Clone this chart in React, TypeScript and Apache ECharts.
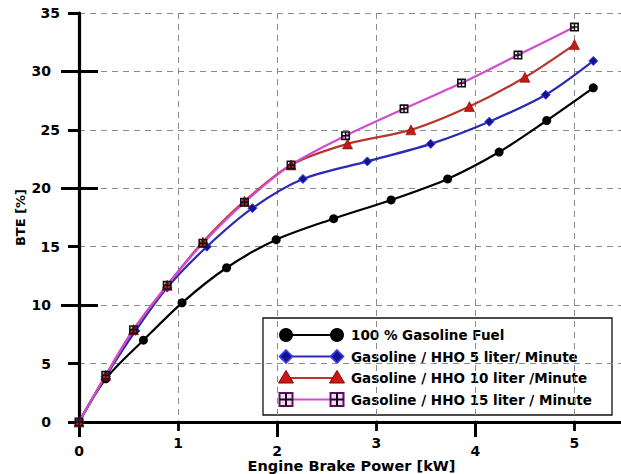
import React, { useEffect, useRef } from "react";
import * as echarts from "echarts";

// Engine brake power [kW] and brake thermal efficiency [%] for each fuel mode
const gasolinePower = [0, 0.27, 0.65, 1.04, 1.49, 1.99, 2.57, 3.15, 3.72, 4.24, 4.72, 5.19];
const gasolineBTE = [0, 3.7, 7.0, 10.2, 13.2, 15.6, 17.4, 19.0, 20.8, 23.1, 25.8, 28.6];

const hho5Power = [0, 0.27, 0.57, 0.89, 1.29, 1.75, 2.26, 2.91, 3.55, 4.14, 4.71, 5.19];
const hho5BTE = [0, 3.9, 7.8, 11.5, 15.0, 18.3, 20.8, 22.3, 23.8, 25.7, 28.0, 30.9];

const hho10Power = [0, 0.27, 0.55, 0.89, 1.25, 1.67, 2.14, 2.71, 3.35, 3.94, 4.5, 5.0];
const hho10BTE = [0, 4.0, 7.9, 11.7, 15.4, 18.9, 22.0, 23.8, 25.0, 27.0, 29.5, 32.3];

const hho15Power = [0, 0.27, 0.55, 0.89, 1.25, 1.67, 2.14, 2.69, 3.28, 3.86, 4.43, 5.0];
const hho15BTE = [0, 4.0, 7.9, 11.7, 15.3, 18.8, 22.0, 24.5, 26.8, 29.0, 31.4, 33.8];

const seriesNames = [
  "100 % Gasoline Fuel",
  "Gasoline / HHO 5 liter/ Minute",
  "Gasoline / HHO 10 liter /Minute",
  "Gasoline / HHO 15 liter / Minute",
];

const xTicks = [0, 1, 2, 3, 4, 5];
const yTicks = [0, 5, 10, 15, 20, 25, 30, 35];
const yMajorTicks = [10, 20, 30];
const xMajorTicks = [0, 2, 4];

const FONT = '"DejaVu Sans", "Liberation Sans", Arial, sans-serif';
const BLACK = "#000000";
const BLUE = "#2a2ab4";
const RED = "#b8362c";
const MAGENTA = "#d24ccf";

// square marker with a cross-hatch (four cut-out cells)
const gridSquare =
  "path://M0,0H10V10H0Z M1.8,1.8V4.2H4.2V1.8Z M5.8,1.8V4.2H8.2V1.8Z M1.8,5.8V8.2H4.2V5.8Z M5.8,5.8V8.2H8.2V5.8Z";

const pairs = (xs: number[], ys: number[]) => xs.map((x, i) => [x, ys[i]]);

function legendGraphic() {
  const left = 263;
  const top = 318;
  const x1 = 286;
  const x2 = 337;
  const rows = [335, 356.5, 378, 399.5];
  const children: any[] = [
    {
      type: "rect",
      shape: { x: left, y: top, width: 349, height: 97 },
      style: { fill: "#ffffff", stroke: "#111111", lineWidth: 1.3 },
    },
  ];
  const colors = [BLACK, BLUE, RED, MAGENTA];
  rows.forEach((cy, i) => {
    children.push({
      type: "line",
      shape: { x1, y1: cy, x2, y2: cy },
      style: { stroke: colors[i], lineWidth: 2.2 },
    });
    [x1, x2].forEach((cx) => {
      if (i === 0) {
        children.push({ type: "circle", shape: { cx, cy, r: 7 }, style: { fill: "#000000" } });
      } else if (i === 1) {
        children.push({
          type: "polygon",
          shape: { points: [[cx, cy - 6.5], [cx + 6.5, cy], [cx, cy + 6.5], [cx - 6.5, cy]] },
          style: { fill: "#14148c", stroke: "#3a3aff", lineWidth: 1.6 },
        });
      } else if (i === 2) {
        children.push({
          type: "polygon",
          shape: { points: [[cx, cy - 7.5], [cx + 7.5, cy + 5], [cx - 7.5, cy + 5]] },
          style: { fill: "#d01515", stroke: "#7a0a0a", lineWidth: 1 },
        });
      } else {
        children.push({
          type: "rect",
          shape: { x: cx - 6.5, y: cy - 6.5, width: 13, height: 13 },
          style: { fill: "#f4dcf4", stroke: "#5a1060", lineWidth: 2 },
        });
        children.push({
          type: "line",
          shape: { x1: cx, y1: cy - 6.5, x2: cx, y2: cy + 6.5 },
          style: { stroke: "#1a001a", lineWidth: 2 },
        });
        children.push({
          type: "line",
          shape: { x1: cx - 6.5, y1: cy, x2: cx + 6.5, y2: cy },
          style: { stroke: "#1a001a", lineWidth: 2 },
        });
      }
    });
    children.push({
      type: "text",
      style: {
        text: seriesNames[i],
        x: 351,
        y: cy,
        fill: "#000000",
        fontFamily: FONT,
        fontWeight: "bold",
        fontSize: 13.5,
        verticalAlign: "middle",
        align: "left",
      },
    });
  });
  return [{ type: "group", z: 100, children }];
}

export default function App() {
  const ref = useRef<HTMLDivElement>(null);

  useEffect(() => {
    if (!ref.current) return;
    const chart = echarts.init(ref.current, undefined, { renderer: "svg" });

    const labelStyle = { fontFamily: FONT, fontWeight: "bold" as const, fontSize: 14, color: "#000" };
    const dashed = { color: "#8a8a8a", width: 1, type: [6, 5] as number[] };

    const lineSeries = (
      name: string,
      data: number[][],
      color: string,
      symbol: string,
      symbolSize: number,
      itemStyle: any
    ) => ({
      type: "line",
      name,
      data,
      smooth: 0.3,
      symbol,
      symbolSize,
      showSymbol: true,
      lineStyle: { color, width: 2.2 },
      itemStyle,
      xAxisIndex: 0,
      yAxisIndex: 0,
    });

    chart.setOption({
      animation: false,
      backgroundColor: "#ffffff",
      grid: { left: 79, top: 13, right: -3, bottom: 52, outerBoundsMode: "none" },
      xAxis: [
        {
          type: "value",
          min: 0,
          max: 5.5,
          interval: 1,
          position: "bottom",
          axisLine: { show: true, onZero: false, lineStyle: { color: BLACK, width: 2.8 } },
          axisTick: { show: true, length: 9, lineStyle: { color: BLACK, width: 2.8 } },
          axisLabel: {
            ...labelStyle,
            margin: 14,
            showMaxLabel: false,
            formatter: (v: number) =>
              xTicks.includes(v) ? (v % 2 === 0 ? `{e|${v}}` : `{o|${v}}`) : "",
            rich: {
              o: { ...labelStyle },
              e: { ...labelStyle, padding: [8, 0, 0, 0] },
            },
          },
          splitLine: { show: true, lineStyle: dashed },
          name: "Engine Brake Power [kW]",
          nameLocation: "middle",
          nameGap: 36,
          nameMoveOverlap: false,
          nameTextStyle: { ...labelStyle, fontSize: 14.5 },
        },
        {
          type: "value",
          min: 0,
          max: 5.5,
          position: "bottom",
          axisLine: { show: false },
          axisTick: { show: true, customValues: xMajorTicks, length: 15, lineStyle: { color: BLACK, width: 3 } },
          axisLabel: { show: false },
          splitLine: { show: false },
        },
      ],
      yAxis: [
        {
          type: "value",
          min: 0,
          max: 35,
          interval: 5,
          position: "left",
          axisLine: { show: true, onZero: false, lineStyle: { color: BLACK, width: 3.2 } },
          axisTick: { show: true, length: 11, lineStyle: { color: BLACK, width: 3 } },
          axisLabel: {
            ...labelStyle,
            margin: 19,
            formatter: (v: number) =>
              yTicks.includes(v) ? (v % 10 === 5 && v > 10 ? `{n|${v}}` : `{w|${v}}`) : "",
            rich: {
              n: { ...labelStyle },
              w: { ...labelStyle, padding: [0, 9, 0, 0] },
            },
          },
          splitLine: { show: true, lineStyle: dashed },
          name: "BTE [%]",
          nameLocation: "middle",
          nameGap: 52,
          nameMoveOverlap: false,
          nameRotate: 90,
          nameTextStyle: { ...labelStyle, fontSize: 13 },
        },
        {
          type: "value",
          min: 0,
          max: 35,
          position: "left",
          axisLine: { show: false },
          axisTick: { show: true, customValues: yMajorTicks, length: 18, lineStyle: { color: BLACK, width: 3 } },
          axisLabel: { show: false },
          splitLine: { show: false },
        },
        {
          type: "value",
          min: 0,
          max: 35,
          position: "left",
          axisLine: { show: false },
          axisTick: {
            show: true,
            inside: true,
            customValues: yMajorTicks,
            length: 19,
            lineStyle: { color: BLACK, width: 3 },
          },
          axisLabel: { show: false },
          splitLine: { show: false },
        },
      ],
      series: [
        lineSeries(seriesNames[0], pairs(gasolinePower, gasolineBTE), BLACK, "circle", 9, {
          color: "#000000",
        }),
        lineSeries(seriesNames[1], pairs(hho5Power, hho5BTE), BLUE, "diamond", 9, {
          color: "#14148c",
          borderColor: "#3a3aff",
          borderWidth: 1,
        }),
        lineSeries(seriesNames[2], pairs(hho10Power, hho10BTE), RED, "triangle", 10, {
          color: "#c81a14",
          borderColor: "#6a0a0a",
          borderWidth: 0.6,
        }),
        lineSeries(seriesNames[3], pairs(hho15Power, hho15BTE), MAGENTA, gridSquare, 9, {
          color: "#111111",
          borderColor: "#111111",
          borderWidth: 0,
        }),
      ],
      graphic: legendGraphic(),
    });

    return () => chart.dispose();
  }, []);

  return (
    <div
      ref={ref}
      style={{ position: "fixed", left: 0, top: 0, width: 621, height: 474, background: "#fff" }}
    />
  );
}
